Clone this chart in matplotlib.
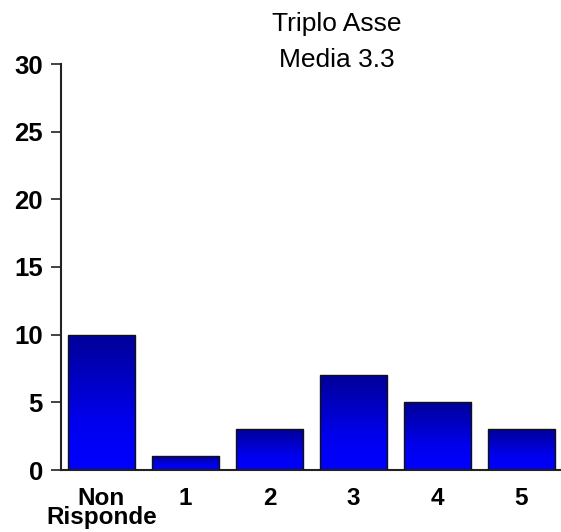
import numpy as np
import matplotlib.pyplot as plt
from matplotlib.colors import LinearSegmentedColormap

# Data
categories = ['Non\nRisponde', '1', '2', '3', '4', '5']
counts = [10, 1, 3, 7, 5, 3]
y_ticks = [0, 5, 10, 15, 20, 25, 30]
title_line1 = 'Triplo Asse'
title_line2 = 'Media 3.3'

plt.rcParams['font.family'] = ['Liberation Sans', 'DejaVu Sans']

W, H = 561, 532
fig = plt.figure(figsize=(W / 100, H / 100), dpi=100)
ax = fig.add_axes([61 / W, (H - 470) / H, 1 - 61 / W, (470 - 64) / H])

x = np.arange(len(categories))
bars = ax.bar(x, counts, width=0.8, facecolor='none', edgecolor='#111111',
              linewidth=1.0, zorder=3)

# vertical gradient: dark navy at the top, bright blue at the bottom
cmap = LinearSegmentedColormap.from_list(
    'blues', [(0.0, '#0000ff'), (0.35, '#0000ee'), (1.0, '#000098')])
grad = np.linspace(0, 1, 256).reshape(-1, 1)
for b in bars:
    x0, y0 = b.get_x(), b.get_y()
    w, h = b.get_width(), b.get_height()
    im = ax.imshow(grad, cmap=cmap, origin='lower', aspect='auto',
                   extent=[x0, x0 + w, y0, y0 + h], zorder=2)
    im.set_clip_path(b)

ax.set_xlim(-0.48, 5.47)
ax.set_ylim(0, 30)
ax.set_yticks(y_ticks)
ax.set_yticklabels([str(t) for t in y_ticks], fontsize=18.5, fontweight='bold')
ax.set_xticks(x)
ax.set_xticklabels(categories, fontsize=17.5, fontweight='bold', linespacing=0.8)

ax.tick_params(axis='y', length=7, width=1.2, pad=6, color='#222222')
ax.tick_params(axis='x', length=0, pad=12)

for side in ['top', 'right']:
    ax.spines[side].set_visible(False)
for side in ['left', 'bottom']:
    ax.spines[side].set_linewidth(1.5)
    ax.spines[side].set_color('#222222')

# title sits a bit right of the axes centre
fig.text(337 / W, 1 - 31 / H, title_line1, ha='center', va='baseline', fontsize=19)
fig.text(337 / W, 1 - 67 / H, title_line2, ha='center', va='baseline', fontsize=19)

fig.savefig('out.png', dpi=100)
